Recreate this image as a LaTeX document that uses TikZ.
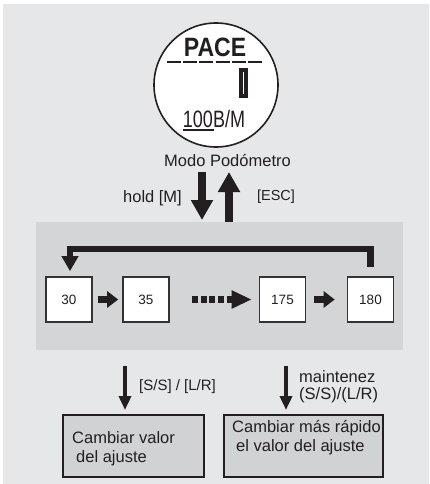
\documentclass[tikz,border=0pt]{standalone}
\usepackage{fontspec}
\usepackage{graphicx}
\setmainfont{Liberation Sans}
\usetikzlibrary{arrows.meta}
\definecolor{bgc}{HTML}{E6E7E8}
\definecolor{panelc}{HTML}{D4D5D6}
\definecolor{boxc}{HTML}{D1D2D3}
\definecolor{ink}{HTML}{231F20}
\definecolor{boxline}{HTML}{333333}
\begin{document}
\begin{tikzpicture}[x=1pt,y=-1pt,
  bigtxt/.style={font=\fontsize{16.5pt}{19pt}\selectfont, inner sep=0, text=ink},
  midtxt/.style={font=\fontsize{14.5pt}{17pt}\selectfont, inner sep=0, text=ink},
  numbox/.style={draw=boxline, line width=1.6pt, fill=white, minimum width=46pt, minimum height=45pt, inner sep=0, font=\fontsize{13.5pt}{16pt}\selectfont, text=ink},
  resbox/.style={draw=ink, line width=1.8pt, fill=boxc, minimum height=62pt, inner sep=0},
  bigarr/.style={draw=ink, line width=8pt, -{Triangle[width=21pt,length=20pt]}},
  smallarr/.style={draw=ink, line width=7pt, -{Triangle[width=16pt,length=11pt]}},
  looparr/.style={draw=ink, line width=6.5pt, line join=miter, -{Triangle[width=16pt,length=15pt]}},
  thinarr/.style={draw=ink, line width=4.5pt, -{Triangle[width=12pt,length=14pt]}}
]
\useasboundingbox (0,0) rectangle (429,484);
\fill[white] (0,0) rectangle (429,484);
\fill[bgc] (3,4) rectangle (429,484);

% gray panel
\node[fill=panelc, minimum width=367pt, minimum height=128pt, inner sep=0] (panel) at (219.5,286) {};

% display
\node[circle, draw=ink, line width=1.6pt, fill=white, minimum size=124pt, inner sep=0] (disp) at (216,85) {};
\node[anchor=base, inner sep=0, font=\bfseries\fontsize{26.5pt}{27pt}\selectfont, text=ink] (pace) at (215,57) {\scalebox{0.87}[1]{PACE}};
\draw[ink, line width=2.6pt, dash pattern=on 14pt off 2.2pt] (167,62) -- (263,62);
\draw[ink, line width=3.6pt] (240.8,69.8) rectangle (246.2,96.2);
\node[anchor=base, inner sep=0, font=\fontsize{23.7pt}{24pt}\selectfont, text=ink] (unit) at (214,128) {\scalebox{0.76}[1]{100B/M}};
\draw[ink, line width=1.5pt] (183,130) -- (214,130);

\node[bigtxt, anchor=base] (modo) at (227.5,166) {Modo Podómetro};

% mode arrows
\coordinate (dtop) at (202,172);
\coordinate (dbot) at (202,220);
\coordinate (ubot) at (229,222);
\coordinate (utop) at (229,172);
\draw[bigarr] (dtop) -- (dbot);
\draw[bigarr] (ubot) -- (utop);
\node[bigtxt, anchor=base] (hold) at (152.5,202) {hold [M]};
\node[midtxt, anchor=base] (esc) at (276,200) {[ESC]};

% value boxes
\node[numbox] (n30) at (69,299.5) {30};
\node[numbox] (n35) at (146,299.5) {35};
\node[numbox] (n175) at (282.5,299.5) {175};
\node[numbox] (n180) at (370.5,299.5) {180};

\draw[smallarr, shorten <=5pt, shorten >=4pt] (n30) -- (n35);
\draw[draw=ink, line width=6.5pt, dash pattern=on 6pt off 2.75pt, -{Triangle[width=17pt,length=20pt]}, shorten <=22pt, shorten >=7pt] (n35) -- (n175);
\draw[smallarr, shorten <=8pt, shorten >=12pt] (n175) -- (n180);

\draw[looparr] ([yshift=9pt]n180.north) |- ([xshift=1pt,yshift=27pt]n30.north) -- ([xshift=1pt,yshift=5pt]n30.north);

% lower arrows
\coordinate (la1) at (125,366);
\coordinate (la2) at (125,410);
\coordinate (ra1) at (286,366);
\coordinate (ra2) at (286,410);
\draw[thinarr] (la1) -- (la2);
\draw[thinarr] (ra1) -- (ra2);
\node[midtxt, anchor=base west, font=\fontsize{15pt}{17pt}\selectfont] (ss) at (139,390.5) {[S/S] / [L/R]};
\node[bigtxt, anchor=base west] (mant) at (299,382) {maintenez};
\node[bigtxt, anchor=base west] (ss2) at (299,399.5) {(S/S)/(L/R)};

% result boxes
\node[resbox, minimum width=141pt] (bl) at (133.5,446) {};
\node[resbox, minimum width=159pt] (br) at (303.5,446) {};
\node[bigtxt, anchor=base west] (bl1) at (72,443) {Cambiar valor};
\node[bigtxt, anchor=base west] (bl2) at (76,462) {del ajuste};
\node[bigtxt, anchor=base west] (br1) at (232,432) {Cambiar más rápido};
\node[bigtxt, anchor=base west] (br2) at (236,451) {el valor del ajuste};
\end{tikzpicture}
\end{document}
